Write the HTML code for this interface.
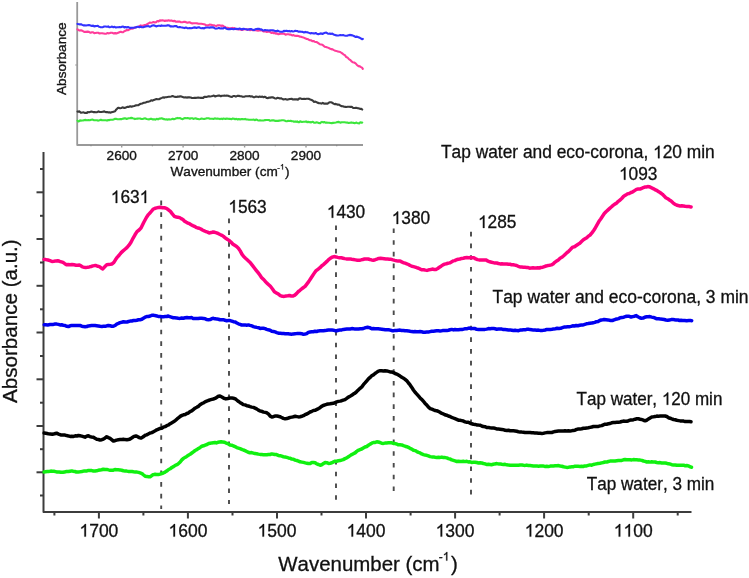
<!DOCTYPE html>
<html><head><meta charset="utf-8"><style>
html,body{margin:0;padding:0;background:#fff;}
body{width:749px;height:578px;overflow:hidden;}
svg{display:block;will-change:transform;filter:blur(0.35px);}
text{font-family:"Liberation Sans",sans-serif;font-kerning:none;white-space:pre;}
.tl{font-size:17.5px;}
.pk{font-size:17.3px;}
.sl{font-size:17.45px;}
.at{font-size:20.6px;font-kerning:normal;}
.sup{font-size:12px;}
.itl{font-size:13.6px;fill:#222;}
.iat{font-size:13.6px;fill:#222;}
.isup{font-size:8px;}
</style></head><body>
<svg width="749" height="578" viewBox="0 0 749 578">
<rect width="749" height="578" fill="#fff"/>
<path d="M43.5,152 L43.5,512 L691.5,512" fill="none" stroke="#3c3c3c" stroke-width="2" stroke-linejoin="round"/>
<line x1="36.5" y1="192.3" x2="43.5" y2="192.3" stroke="#3c3c3c" stroke-width="2"/>
<line x1="36.5" y1="239.0" x2="43.5" y2="239.0" stroke="#3c3c3c" stroke-width="2"/>
<line x1="36.5" y1="285.8" x2="43.5" y2="285.8" stroke="#3c3c3c" stroke-width="2"/>
<line x1="36.5" y1="332.5" x2="43.5" y2="332.5" stroke="#3c3c3c" stroke-width="2"/>
<line x1="36.5" y1="379.3" x2="43.5" y2="379.3" stroke="#3c3c3c" stroke-width="2"/>
<line x1="36.5" y1="426.0" x2="43.5" y2="426.0" stroke="#3c3c3c" stroke-width="2"/>
<line x1="36.5" y1="472.3" x2="43.5" y2="472.3" stroke="#3c3c3c" stroke-width="2"/>
<line x1="40" y1="169.0" x2="43.5" y2="169.0" stroke="#3c3c3c" stroke-width="2"/>
<line x1="40" y1="215.8" x2="43.5" y2="215.8" stroke="#3c3c3c" stroke-width="2"/>
<line x1="40" y1="262.5" x2="43.5" y2="262.5" stroke="#3c3c3c" stroke-width="2"/>
<line x1="40" y1="309.3" x2="43.5" y2="309.3" stroke="#3c3c3c" stroke-width="2"/>
<line x1="40" y1="356.0" x2="43.5" y2="356.0" stroke="#3c3c3c" stroke-width="2"/>
<line x1="40" y1="402.7" x2="43.5" y2="402.7" stroke="#3c3c3c" stroke-width="2"/>
<line x1="40" y1="449.2" x2="43.5" y2="449.2" stroke="#3c3c3c" stroke-width="2"/>
<line x1="40" y1="495.5" x2="43.5" y2="495.5" stroke="#3c3c3c" stroke-width="2"/>
<line x1="633.2" y1="512" x2="633.2" y2="518.5" stroke="#3c3c3c" stroke-width="2"/>
<line x1="544.1" y1="512" x2="544.1" y2="518.5" stroke="#3c3c3c" stroke-width="2"/>
<line x1="455.1" y1="512" x2="455.1" y2="518.5" stroke="#3c3c3c" stroke-width="2"/>
<line x1="366.0" y1="512" x2="366.0" y2="518.5" stroke="#3c3c3c" stroke-width="2"/>
<line x1="277.0" y1="512" x2="277.0" y2="518.5" stroke="#3c3c3c" stroke-width="2"/>
<line x1="187.9" y1="512" x2="187.9" y2="518.5" stroke="#3c3c3c" stroke-width="2"/>
<line x1="98.9" y1="512" x2="98.9" y2="518.5" stroke="#3c3c3c" stroke-width="2"/>
<line x1="677.7" y1="512" x2="677.7" y2="515.5" stroke="#3c3c3c" stroke-width="2"/>
<line x1="588.7" y1="512" x2="588.7" y2="515.5" stroke="#3c3c3c" stroke-width="2"/>
<line x1="499.6" y1="512" x2="499.6" y2="515.5" stroke="#3c3c3c" stroke-width="2"/>
<line x1="410.6" y1="512" x2="410.6" y2="515.5" stroke="#3c3c3c" stroke-width="2"/>
<line x1="321.5" y1="512" x2="321.5" y2="515.5" stroke="#3c3c3c" stroke-width="2"/>
<line x1="232.5" y1="512" x2="232.5" y2="515.5" stroke="#3c3c3c" stroke-width="2"/>
<line x1="143.4" y1="512" x2="143.4" y2="515.5" stroke="#3c3c3c" stroke-width="2"/>
<line x1="54.4" y1="512" x2="54.4" y2="515.5" stroke="#3c3c3c" stroke-width="2"/>
<g transform="translate(633.20,536.60) scale(1,1.04)"><text x="-19.47" y="0" style="font-size:17.5px;fill:#111;stroke:#111;stroke-width:0.3px">  00</text><path d="M763 0L583 0L583 1098Q518 1039 412.5 979Q307 920 223 890L223 1057Q374 1125 485.5 1220Q597 1315 647 1409L763 1409Z" transform="translate(-19.47,0) scale(0.00854,-0.00854)" fill="#111" stroke="#111" stroke-width="35.1"/><path d="M763 0L583 0L583 1098Q518 1039 412.5 979Q307 920 223 890L223 1057Q374 1125 485.5 1220Q597 1315 647 1409L763 1409Z" transform="translate(-9.73,0) scale(0.00854,-0.00854)" fill="#111" stroke="#111" stroke-width="35.1"/></g>
<g transform="translate(544.15,536.60) scale(1,1.04)"><text x="-19.47" y="0" style="font-size:17.5px;fill:#111;stroke:#111;stroke-width:0.3px"> 200</text><path d="M763 0L583 0L583 1098Q518 1039 412.5 979Q307 920 223 890L223 1057Q374 1125 485.5 1220Q597 1315 647 1409L763 1409Z" transform="translate(-19.47,0) scale(0.00854,-0.00854)" fill="#111" stroke="#111" stroke-width="35.1"/></g>
<g transform="translate(455.10,536.60) scale(1,1.04)"><text x="-19.47" y="0" style="font-size:17.5px;fill:#111;stroke:#111;stroke-width:0.3px"> 300</text><path d="M763 0L583 0L583 1098Q518 1039 412.5 979Q307 920 223 890L223 1057Q374 1125 485.5 1220Q597 1315 647 1409L763 1409Z" transform="translate(-19.47,0) scale(0.00854,-0.00854)" fill="#111" stroke="#111" stroke-width="35.1"/></g>
<g transform="translate(366.05,536.60) scale(1,1.04)"><text x="-19.47" y="0" style="font-size:17.5px;fill:#111;stroke:#111;stroke-width:0.3px"> 400</text><path d="M763 0L583 0L583 1098Q518 1039 412.5 979Q307 920 223 890L223 1057Q374 1125 485.5 1220Q597 1315 647 1409L763 1409Z" transform="translate(-19.47,0) scale(0.00854,-0.00854)" fill="#111" stroke="#111" stroke-width="35.1"/></g>
<g transform="translate(277.00,536.60) scale(1,1.04)"><text x="-19.47" y="0" style="font-size:17.5px;fill:#111;stroke:#111;stroke-width:0.3px"> 500</text><path d="M763 0L583 0L583 1098Q518 1039 412.5 979Q307 920 223 890L223 1057Q374 1125 485.5 1220Q597 1315 647 1409L763 1409Z" transform="translate(-19.47,0) scale(0.00854,-0.00854)" fill="#111" stroke="#111" stroke-width="35.1"/></g>
<g transform="translate(187.95,536.60) scale(1,1.04)"><text x="-19.47" y="0" style="font-size:17.5px;fill:#111;stroke:#111;stroke-width:0.3px"> 600</text><path d="M763 0L583 0L583 1098Q518 1039 412.5 979Q307 920 223 890L223 1057Q374 1125 485.5 1220Q597 1315 647 1409L763 1409Z" transform="translate(-19.47,0) scale(0.00854,-0.00854)" fill="#111" stroke="#111" stroke-width="35.1"/></g>
<g transform="translate(98.90,536.60) scale(1,1.04)"><text x="-19.47" y="0" style="font-size:17.5px;fill:#111;stroke:#111;stroke-width:0.3px"> 700</text><path d="M763 0L583 0L583 1098Q518 1039 412.5 979Q307 920 223 890L223 1057Q374 1125 485.5 1220Q597 1315 647 1409L763 1409Z" transform="translate(-19.47,0) scale(0.00854,-0.00854)" fill="#111" stroke="#111" stroke-width="35.1"/></g>
<line x1="161.2" y1="200.6" x2="161.2" y2="509" stroke="#4a4a4a" stroke-width="1.9" stroke-dasharray="4.6 7.13"/>
<line x1="229" y1="218.6" x2="229" y2="504" stroke="#4a4a4a" stroke-width="1.9" stroke-dasharray="4.6 7.13"/>
<line x1="336" y1="225.4" x2="336" y2="506.5" stroke="#4a4a4a" stroke-width="1.9" stroke-dasharray="4.6 7.13"/>
<line x1="393.7" y1="228.4" x2="393.7" y2="498" stroke="#4a4a4a" stroke-width="1.9" stroke-dasharray="4.6 7.13"/>
<line x1="471" y1="231.8" x2="471" y2="501.5" stroke="#4a4a4a" stroke-width="1.9" stroke-dasharray="4.6 7.13"/>
<polyline points="44.0,259.4 45.8,259.6 48.0,260.0 50.0,260.6 52.0,261.5 53.9,261.3 56.0,260.9 57.7,260.8 59.5,261.3 61.4,261.9 63.0,262.4 64.8,263.7 66.5,264.7 68.0,264.6 70.2,264.8 72.0,264.5 74.0,264.8 76.0,265.2 77.7,265.2 79.4,265.0 80.8,265.8 82.4,266.9 84.0,267.2 85.7,267.4 87.5,267.2 89.4,266.9 91.1,266.5 92.9,265.9 94.6,265.6 96.1,265.6 98.0,266.3 99.4,266.6 101.1,267.9 102.8,268.9 104.7,266.8 106.8,264.7 108.5,264.4 110.3,264.2 112.1,263.9 113.9,262.4 115.6,259.6 117.4,257.1 119.3,255.0 121.2,252.6 122.8,251.1 125.0,249.2 126.9,247.6 129.0,245.2 131.0,242.2 133.0,238.3 135.0,234.8 137.0,231.6 139.1,230.0 141.0,228.1 143.7,222.5 146.4,217.5 148.4,214.6 150.4,212.5 153.0,209.3 154.6,208.5 156.6,207.9 158.4,207.5 160.5,207.3 162.4,207.7 164.4,207.8 166.4,208.4 168.4,209.8 170.4,211.4 172.3,213.9 174.4,216.3 176.0,217.0 177.8,217.2 179.7,217.6 181.2,218.6 182.9,219.5 184.6,221.2 186.4,222.3 187.9,223.1 189.5,223.7 191.1,224.7 192.8,225.6 194.4,226.3 196.0,227.3 197.7,228.0 199.3,228.3 200.9,229.0 202.4,230.0 204.2,230.8 206.0,231.7 207.6,232.2 209.1,232.9 211.2,232.6 213.1,232.0 214.8,232.3 216.6,232.9 218.5,233.7 220.1,234.5 221.8,235.3 223.5,236.4 225.0,237.8 227.2,239.2 229.0,240.4 230.9,242.0 233.0,244.2 234.7,245.3 236.6,246.5 238.4,248.2 240.2,250.9 241.9,254.1 243.7,256.5 245.5,258.2 247.2,259.7 249.0,261.4 250.8,263.3 252.6,265.6 254.4,268.0 256.2,270.3 257.9,272.4 259.7,274.8 261.5,277.4 263.3,279.2 265.1,281.2 266.9,283.1 268.7,284.7 270.4,286.3 272.5,289.0 274.4,291.7 276.4,292.9 278.4,294.1 280.3,295.6 282.4,296.3 284.1,296.4 286.0,296.0 287.8,295.8 289.6,295.5 291.3,296.1 293.1,296.0 294.8,295.1 296.5,293.6 298.4,291.5 300.0,290.3 301.8,288.7 303.5,287.5 305.1,286.4 307.0,283.9 308.7,281.6 310.4,279.0 312.2,276.3 314.1,273.4 315.8,270.9 317.9,269.3 320.0,267.7 321.6,266.0 323.4,264.6 325.3,262.9 326.9,261.4 328.7,259.6 330.5,258.2 332.0,257.2 334.1,256.6 336.0,256.9 337.7,257.4 339.5,257.8 341.4,257.8 343.0,258.2 344.7,258.6 346.4,258.9 348.0,259.0 349.9,258.9 351.7,259.3 353.4,259.5 355.4,259.9 357.4,260.3 359.1,260.2 360.9,259.9 362.7,259.5 364.5,259.0 366.3,259.1 368.1,259.0 369.9,259.5 371.6,259.9 373.4,260.2 375.2,259.7 376.9,259.1 378.7,258.4 380.5,258.3 382.3,258.5 384.1,258.7 385.9,258.9 387.6,259.1 389.4,259.3 391.2,259.3 393.0,259.9 394.8,260.4 396.5,260.8 398.2,261.0 400.1,261.0 401.7,261.9 403.4,262.8 405.1,263.1 406.8,263.8 408.5,264.5 410.1,265.5 411.8,266.2 413.5,266.6 415.2,267.1 416.9,267.7 418.6,268.2 420.3,269.1 422.0,269.8 423.7,269.7 425.4,270.1 427.0,270.4 428.9,269.8 430.7,269.5 432.4,269.1 434.2,269.4 435.9,269.5 437.7,268.5 439.4,267.3 441.1,266.2 443.0,264.8 444.6,264.1 446.3,263.7 448.0,263.2 449.7,262.9 451.4,261.9 453.1,260.9 454.8,260.6 456.4,259.7 458.2,259.3 459.9,259.0 461.7,258.4 463.3,258.3 465.1,257.8 466.9,257.6 468.4,257.7 470.4,257.6 472.4,257.8 473.9,257.8 475.7,258.9 477.5,259.6 479.1,259.9 481.0,260.0 482.7,260.0 484.4,259.9 486.2,260.1 488.0,261.2 489.8,261.8 491.5,262.2 493.2,262.6 495.1,263.1 496.7,263.0 498.4,263.5 500.1,263.9 501.8,263.8 503.5,264.0 505.2,264.1 506.8,264.0 508.5,264.3 510.1,264.2 511.6,264.8 513.2,264.7 515.0,265.1 516.6,265.5 518.2,266.3 520.0,266.9 521.7,267.1 523.4,267.3 525.0,267.3 526.6,267.4 528.1,267.6 529.7,268.2 531.4,267.9 532.9,267.8 534.6,268.0 536.2,267.9 537.8,267.7 539.4,268.0 540.7,267.5 542.8,267.2 544.4,266.6 546.0,266.0 547.8,265.6 549.6,265.3 551.4,264.9 553.1,264.0 554.8,262.3 556.7,260.9 558.3,259.9 560.1,258.2 561.8,257.3 563.4,256.0 565.3,254.2 567.1,252.5 568.7,251.3 570.8,249.1 572.8,247.1 574.5,246.7 576.3,245.5 578.1,244.3 579.8,243.3 581.5,241.6 583.4,239.8 585.0,238.8 586.8,237.7 588.5,236.1 590.1,235.0 591.9,232.9 593.5,230.7 595.0,228.5 597.0,224.9 599.0,221.3 600.7,219.0 602.5,216.3 604.3,213.5 606.0,211.7 607.8,210.1 609.7,208.4 611.3,207.0 613.1,205.4 614.8,204.1 616.4,203.2 618.3,201.3 620.1,200.0 621.7,198.5 623.7,196.3 625.7,195.1 627.4,193.9 629.2,193.5 631.0,192.5 632.8,191.8 634.6,190.6 636.4,189.4 638.1,189.0 639.9,189.1 641.7,188.3 643.2,187.7 644.7,187.1 646.2,187.0 647.7,186.6 649.2,186.7 650.7,187.4 652.2,188.1 653.7,188.8 655.5,189.9 657.2,190.7 659.1,191.9 660.7,193.0 662.5,194.3 664.2,196.1 665.8,197.7 667.7,198.7 669.5,200.0 671.1,201.0 673.0,202.8 675.1,204.4 676.5,205.0 678.1,205.6 679.9,205.9 681.8,205.8 683.3,206.0 685.1,206.3 686.9,206.4 688.6,206.4 690.1,206.8 691.1,207.0" fill="none" stroke="#ff0080" stroke-width="3.5" stroke-linejoin="round" stroke-linecap="round"/>
<polyline points="44.2,324.7 45.7,324.7 47.8,324.9 50.0,324.6 51.7,324.5 53.4,324.4 55.1,324.0 56.7,324.1 58.4,324.4 60.0,324.9 61.7,324.8 63.3,325.2 65.1,325.5 66.8,326.3 68.4,326.6 70.1,325.8 71.7,325.6 73.4,325.4 75.0,325.4 76.7,325.5 78.4,325.5 80.0,325.5 81.8,326.2 83.5,326.6 85.1,326.8 86.8,326.6 88.4,325.9 90.1,325.7 91.6,325.5 93.2,325.6 95.1,325.5 96.6,325.7 98.3,325.9 100.2,326.2 101.9,326.4 103.4,326.3 105.3,326.3 106.9,325.8 108.4,325.5 110.1,325.8 111.7,326.2 113.4,326.2 115.1,325.5 116.7,324.1 118.4,323.4 120.1,322.6 121.7,322.3 123.4,321.7 125.1,322.0 126.8,322.1 128.5,321.5 130.1,321.1 131.7,321.0 133.5,320.5 135.1,320.6 136.8,320.2 138.5,319.7 140.1,319.7 141.8,319.3 143.4,318.2 145.1,317.2 146.7,316.6 148.5,316.5 150.2,316.0 151.8,315.3 153.5,315.3 155.0,315.6 156.8,315.9 158.3,316.5 160.1,316.4 161.9,316.7 163.6,316.7 165.0,316.6 166.8,316.5 168.3,316.0 169.7,316.7 171.3,317.2 173.3,317.8 174.8,317.8 176.4,317.9 178.2,318.3 180.0,318.4 181.7,318.0 183.4,318.2 185.2,317.7 186.9,317.5 188.6,317.7 190.0,317.7 191.8,317.6 193.3,318.6 195.0,318.6 196.6,318.5 198.2,318.6 200.0,318.3 201.7,318.2 203.4,318.4 205.2,318.8 206.8,319.6 208.4,319.8 210.1,319.6 211.7,318.7 213.4,318.3 215.0,318.8 216.7,318.9 218.4,319.3 220.1,319.8 221.8,319.7 223.4,319.7 225.0,320.3 226.7,320.7 228.4,320.6 230.1,320.6 231.8,321.1 233.4,321.7 235.2,321.9 236.8,323.0 238.4,323.8 240.1,324.4 241.7,325.0 243.4,325.1 245.1,324.9 246.7,325.2 248.4,324.9 250.0,325.4 251.6,325.7 253.4,326.6 255.0,327.0 256.8,327.4 258.5,327.7 260.1,328.4 261.8,328.3 263.4,328.2 265.1,328.6 266.7,329.3 268.3,329.8 270.1,330.2 271.8,331.2 273.5,331.5 275.1,331.9 276.8,332.6 278.5,333.2 280.2,333.3 282.0,333.4 283.7,333.6 285.2,333.8 286.9,333.7 288.3,333.7 290.0,334.1 291.5,334.2 293.2,333.9 295.0,333.7 296.7,333.6 298.4,333.4 300.1,333.5 301.7,333.7 303.4,334.3 305.1,334.0 306.7,333.6 308.3,332.4 310.0,332.0 311.7,331.7 313.3,331.7 315.0,331.3 316.7,331.5 318.4,330.9 320.0,330.8 321.7,330.8 323.4,330.8 325.1,330.6 326.8,330.3 328.4,330.1 330.1,330.1 331.8,329.9 333.4,330.2 335.0,330.7 336.7,330.8 338.4,330.3 340.0,330.1 341.7,329.9 343.4,329.4 345.1,329.2 346.8,329.0 348.4,329.0 350.1,329.0 351.8,328.6 353.5,328.8 355.1,329.1 356.8,329.1 358.5,329.0 360.3,328.7 361.9,328.8 363.4,328.5 365.6,327.6 367.6,327.2 369.5,327.6 371.8,328.8 373.3,328.6 374.9,328.8 376.7,328.8 378.5,328.7 380.1,329.1 381.8,329.2 383.5,329.4 385.2,329.8 386.8,329.7 388.6,329.7 390.4,330.1 392.0,330.7 393.5,330.7 395.2,330.4 396.7,330.4 398.5,330.2 400.0,330.1 401.6,330.5 403.3,330.5 405.1,330.8 406.8,330.7 408.4,330.9 410.1,331.3 411.7,331.6 413.4,331.8 415.0,331.6 416.7,331.7 418.3,331.7 420.0,331.6 421.6,331.8 423.3,332.2 425.0,332.3 426.7,332.1 428.3,332.1 430.0,331.6 431.7,331.2 433.4,331.2 435.0,331.0 436.7,330.8 438.3,330.8 440.0,330.9 441.7,330.7 443.4,330.4 445.0,330.5 446.7,330.6 448.4,330.2 450.1,329.7 451.7,329.4 453.4,329.9 455.0,329.5 456.7,329.7 458.4,329.7 460.2,329.4 461.9,329.6 463.6,329.1 465.1,328.8 467.2,328.7 468.9,328.1 470.9,328.4 472.3,328.4 473.7,328.5 475.1,328.6 476.7,329.3 478.4,329.4 479.9,329.5 481.5,329.5 483.2,329.4 485.0,329.4 486.7,329.1 488.4,328.6 490.1,328.7 491.7,328.5 493.4,328.4 495.1,328.8 496.7,329.2 498.4,329.0 500.1,329.0 501.8,329.1 503.4,329.5 505.1,329.6 506.8,329.7 508.5,329.9 510.2,329.9 511.8,330.2 513.5,330.5 515.2,330.2 516.8,330.6 518.5,330.7 520.1,330.1 521.8,330.0 523.4,329.8 525.1,329.8 526.7,329.3 528.5,329.3 530.1,329.6 531.7,329.8 533.4,330.1 535.1,330.1 536.8,330.3 538.4,330.1 540.0,330.4 541.8,330.5 543.5,330.3 545.2,330.0 546.9,329.4 548.6,329.5 550.3,329.4 552.0,329.3 553.8,328.9 555.5,328.8 557.2,328.3 559.0,328.4 560.7,328.3 562.4,327.7 564.1,327.1 565.9,326.9 567.6,326.8 569.3,326.7 571.0,326.4 572.7,325.8 574.5,326.0 576.2,325.5 577.9,325.7 579.7,325.3 581.4,325.0 583.1,325.0 584.8,324.3 586.4,323.8 588.1,323.6 589.9,323.3 591.7,323.1 593.2,322.7 594.8,322.4 596.4,321.7 598.1,321.5 599.7,320.5 601.3,320.0 602.8,319.8 604.2,319.5 606.1,319.7 607.9,319.9 609.5,320.2 611.0,320.6 612.4,320.5 614.0,319.9 615.5,319.3 616.9,319.0 618.6,318.6 620.2,317.7 622.0,317.4 623.8,317.2 625.5,316.5 626.9,316.2 629.2,316.3 631.1,317.0 632.7,316.6 634.5,316.2 636.2,315.6 637.9,316.8 639.7,317.7 641.4,318.2 643.1,318.1 644.7,317.2 646.6,316.7 648.2,316.8 649.9,316.6 651.7,317.1 653.8,317.5 655.3,318.2 657.0,318.7 658.8,318.7 660.6,319.1 662.4,319.2 664.2,319.5 665.9,320.0 667.7,320.2 669.5,319.9 671.2,319.6 672.9,319.4 674.5,319.7 676.3,320.1 677.9,319.9 679.5,320.5 681.1,320.3 682.8,320.4 684.7,320.4 686.7,320.7 688.8,320.6 690.5,320.6 691.7,320.7" fill="none" stroke="#0000f0" stroke-width="3.5" stroke-linejoin="round" stroke-linecap="round"/>
<polyline points="44.1,433.0 45.9,433.3 48.3,433.7 50.4,434.0 52.4,434.3 54.5,433.8 56.6,433.2 58.6,434.1 60.7,434.9 62.8,435.0 65.0,435.1 66.6,435.6 68.4,435.9 70.1,436.4 71.8,436.2 73.6,436.4 75.3,435.8 76.9,436.0 78.4,435.5 80.0,435.8 81.7,436.1 83.4,436.6 85.0,437.2 86.6,436.3 88.4,435.8 89.9,436.6 91.6,437.0 93.4,437.3 95.0,438.3 96.8,439.3 98.5,439.5 100.0,440.0 101.8,439.7 103.4,439.1 105.1,438.0 106.7,436.7 108.4,437.6 110.1,438.4 111.6,439.6 113.4,441.0 114.9,440.7 116.5,440.1 118.4,439.7 120.0,439.6 121.8,439.5 123.5,439.3 125.1,439.6 126.9,439.8 128.4,439.6 130.1,439.0 132.0,437.8 134.0,436.4 135.9,436.0 137.7,436.7 139.3,437.6 140.9,438.1 142.9,437.0 145.1,435.3 146.6,434.9 148.3,434.0 150.1,433.0 151.8,432.6 153.5,431.7 155.2,430.8 156.8,429.8 158.5,429.1 160.1,428.4 161.7,428.2 163.3,427.2 165.1,426.6 166.7,425.7 168.4,425.0 170.2,423.7 171.9,422.7 173.5,421.8 175.3,420.6 177.1,418.9 178.7,417.7 180.2,416.4 182.0,415.4 183.6,414.8 185.2,414.5 186.8,413.5 188.4,413.0 190.0,411.6 191.7,410.9 193.3,409.6 195.0,408.2 196.7,407.3 198.3,406.4 200.0,404.8 201.7,403.7 203.3,403.0 205.0,401.9 206.7,401.2 208.3,400.5 210.0,399.9 211.7,399.4 213.3,399.0 215.0,398.4 216.6,397.4 218.3,396.3 220.0,396.1 221.9,397.0 223.9,398.3 225.9,398.9 227.9,398.5 229.8,398.1 231.7,397.9 233.4,398.3 235.1,398.7 236.7,400.0 238.3,401.3 239.9,402.4 241.7,403.5 243.3,404.6 245.0,404.9 246.8,405.7 248.4,406.0 250.1,406.6 251.7,407.1 253.4,407.4 255.0,408.1 256.6,408.9 258.4,410.1 260.1,411.0 261.8,411.3 263.6,412.1 265.2,412.4 266.8,412.8 268.6,414.2 270.2,416.1 271.8,416.9 273.3,416.7 274.9,416.1 276.8,416.0 278.2,416.3 279.9,416.7 281.6,417.5 283.4,418.4 285.1,418.8 286.8,418.5 288.5,418.0 290.3,417.4 291.9,417.1 293.5,416.8 295.3,416.3 296.9,416.6 298.5,416.9 300.1,416.7 301.7,416.3 303.4,415.7 305.0,414.7 306.8,414.0 308.4,413.1 310.1,412.0 311.9,411.3 313.5,410.5 315.0,410.3 316.9,409.4 318.5,408.6 320.0,407.7 321.6,406.4 323.2,405.5 325.0,404.8 326.6,404.3 328.2,404.0 330.0,403.8 331.7,403.5 333.4,403.3 335.1,402.6 336.7,401.9 338.4,401.4 340.1,401.1 341.7,400.7 343.3,400.1 345.0,399.6 346.7,398.4 348.4,397.1 350.1,396.2 351.7,395.3 353.4,394.0 355.0,393.1 356.7,391.6 358.3,390.0 360.1,388.3 361.8,386.9 363.4,384.7 365.2,382.7 366.8,380.8 368.4,378.9 370.1,377.4 371.7,375.8 373.4,374.9 375.0,373.5 376.6,372.4 378.4,371.1 380.0,370.8 381.6,370.8 383.4,371.0 385.1,370.7 386.8,370.9 388.5,371.4 390.1,371.9 391.8,372.0 393.5,372.6 395.1,373.5 396.7,374.1 398.4,375.1 400.1,376.1 401.8,377.3 403.5,378.2 405.1,379.4 406.9,380.9 408.5,383.0 410.1,384.9 411.8,387.4 413.4,390.0 415.1,392.3 416.8,394.1 418.4,395.9 420.1,397.9 421.8,399.6 423.4,401.2 425.1,403.4 426.8,405.1 428.5,407.2 430.2,408.6 431.9,409.2 433.6,409.9 435.2,410.5 436.7,410.8 438.1,411.2 440.0,412.3 441.4,413.2 443.1,413.8 444.8,414.7 446.6,415.2 448.3,416.0 450.0,416.5 451.7,417.3 453.3,418.0 455.0,418.7 456.7,419.4 458.4,420.2 460.0,420.3 461.7,420.6 463.3,421.0 465.0,421.9 466.7,422.2 468.4,422.3 470.0,423.1 471.7,423.8 473.4,424.3 475.1,424.4 476.7,424.9 478.4,425.1 480.0,425.2 481.7,426.0 483.4,426.6 485.0,426.7 486.7,427.5 488.3,427.4 490.0,427.8 491.7,427.9 493.4,428.1 495.0,428.3 496.7,428.9 498.4,429.0 500.1,429.2 501.8,429.4 503.4,429.7 505.1,430.3 506.8,430.5 508.5,430.3 510.1,430.7 511.8,430.8 513.4,430.8 515.1,431.0 516.8,431.3 518.4,431.7 520.1,431.9 521.7,432.1 523.4,432.2 525.1,432.5 526.8,432.4 528.4,432.5 530.1,432.6 531.8,432.8 533.5,432.7 535.1,433.1 536.8,433.1 538.4,433.3 540.1,433.3 541.8,433.4 543.5,433.2 545.1,432.9 546.8,432.6 548.5,432.6 550.2,432.6 551.8,432.5 553.5,431.9 555.1,431.5 556.8,431.3 558.4,431.1 560.1,431.0 561.7,430.9 563.4,430.9 565.0,430.7 566.7,430.9 568.3,430.8 570.0,430.9 571.6,430.7 573.3,430.4 575.0,430.2 576.7,429.4 578.3,429.0 580.0,429.1 581.7,428.8 583.4,428.3 585.0,428.3 586.7,428.0 588.3,427.8 590.0,427.4 591.7,427.0 593.4,426.5 595.0,426.5 596.7,426.5 598.4,426.4 600.1,425.9 601.7,425.6 603.4,424.8 605.0,424.2 606.7,424.2 608.4,423.8 610.1,423.5 611.7,422.8 613.4,422.5 615.1,422.4 616.8,422.3 618.4,422.2 620.1,422.0 621.7,421.5 623.4,421.1 625.1,421.2 626.8,421.2 628.6,420.7 630.2,420.1 631.8,420.0 633.6,419.7 635.2,419.2 636.8,418.8 638.4,418.7 640.1,419.2 641.7,419.5 643.4,420.2 645.1,420.7 646.8,420.2 648.5,418.9 650.1,417.9 651.8,416.9 653.5,416.8 655.2,416.6 656.8,416.1 658.5,416.2 660.2,416.1 661.8,416.0 663.4,415.9 665.1,416.0 666.8,416.5 668.4,417.7 670.1,418.2 671.8,418.9 673.5,419.5 675.1,419.8 676.8,420.3 678.5,420.6 680.2,420.9 681.9,421.0 683.6,421.1 685.2,421.6 687.4,421.5 689.5,421.5 691.0,421.7" fill="none" stroke="#000000" stroke-width="3.5" stroke-linejoin="round" stroke-linecap="round"/>
<polyline points="44.1,471.9 45.4,471.7 47.3,471.4 49.3,471.4 50.8,471.1 52.3,471.2 53.9,471.3 55.6,471.6 57.3,472.1 59.1,472.0 61.0,472.3 62.8,472.2 64.6,471.9 66.5,471.6 68.3,471.5 70.1,471.2 71.7,470.9 73.2,471.2 74.7,471.4 76.3,472.0 78.1,472.0 79.9,471.8 81.8,471.5 83.6,471.1 85.3,471.1 86.9,470.9 88.5,470.4 90.0,470.6 91.8,470.6 93.4,471.0 95.0,471.0 96.6,470.8 98.2,470.3 100.0,470.0 101.6,469.7 103.3,469.2 105.1,469.4 106.7,469.4 108.5,469.9 110.1,470.2 111.7,470.3 113.3,470.2 114.9,469.5 116.7,469.7 118.2,469.8 119.8,469.9 121.6,470.3 123.4,470.8 125.0,470.9 126.6,471.1 128.3,471.4 130.0,471.4 131.7,471.4 133.4,471.8 135.2,471.9 137.0,472.1 138.6,472.4 140.1,472.9 142.0,473.6 143.6,475.0 145.1,476.2 146.8,476.4 148.4,476.7 150.1,476.8 151.8,475.6 153.4,474.6 155.1,474.3 156.8,474.4 158.4,474.5 160.1,474.1 161.7,473.5 163.3,473.0 165.1,472.1 166.7,471.1 168.3,469.7 170.1,468.8 171.8,467.5 173.5,466.6 175.3,465.3 176.9,464.7 178.5,463.6 180.2,462.0 181.8,459.9 183.5,458.4 185.0,457.4 186.7,456.4 188.4,455.2 190.1,454.3 191.8,453.0 193.4,451.8 195.1,450.5 196.8,449.7 198.5,448.4 200.2,447.4 201.8,446.3 203.5,445.8 205.2,445.1 207.0,444.5 208.7,443.5 210.2,443.2 211.8,442.9 213.3,442.7 215.0,442.5 216.4,442.9 217.9,442.3 219.5,442.0 221.1,441.7 222.5,441.9 224.6,442.2 226.4,443.2 228.4,444.0 230.0,445.0 231.7,445.2 233.3,445.8 235.0,446.6 236.7,447.6 238.4,448.1 240.1,448.6 241.7,449.3 243.4,450.0 245.0,450.6 246.7,451.5 248.2,452.3 249.8,452.7 251.6,452.6 253.4,453.1 255.0,453.6 256.7,453.7 258.4,454.1 260.1,454.4 261.7,454.5 263.5,454.7 265.3,454.7 266.9,454.8 268.4,454.6 270.1,454.5 271.7,453.9 273.4,454.2 274.9,454.5 276.5,454.6 278.3,455.4 280.1,455.7 281.7,456.2 283.4,456.7 285.1,457.0 286.8,457.4 288.4,457.9 290.2,458.2 291.8,459.1 293.5,459.2 295.1,460.1 296.8,460.5 298.5,461.1 300.1,461.8 301.8,462.1 303.5,462.4 305.3,462.9 306.9,463.2 308.5,463.6 310.2,463.5 311.8,462.5 313.5,462.5 315.1,462.7 316.8,463.9 318.5,464.5 320.1,465.2 321.9,464.7 323.5,463.5 325.1,462.6 326.8,462.7 328.5,463.4 330.2,463.2 331.9,462.8 333.6,461.9 335.2,461.2 336.7,461.2 338.3,460.8 340.0,460.6 341.5,460.1 343.2,459.6 345.0,458.6 346.7,457.9 348.4,456.7 350.1,455.6 351.7,454.6 353.4,453.7 355.1,452.9 356.7,451.4 358.3,450.3 360.0,449.6 361.7,449.0 363.3,448.0 365.0,447.0 366.7,446.5 368.4,445.3 370.2,444.1 371.8,443.2 373.4,442.5 375.2,442.4 376.8,441.8 378.4,442.0 380.0,442.5 381.6,443.2 383.4,443.4 385.0,443.1 386.6,442.9 388.4,442.8 390.1,442.8 391.8,442.8 393.4,443.4 395.0,443.6 396.7,444.0 398.4,444.8 400.0,444.8 401.7,444.9 403.4,445.6 405.1,446.2 406.8,446.7 408.4,447.4 410.1,448.3 411.8,449.1 413.5,450.3 415.1,450.6 416.8,451.6 418.5,452.4 420.1,452.9 421.7,453.9 423.4,454.6 425.1,455.0 426.7,455.3 428.4,455.9 430.1,456.6 431.8,456.9 433.5,456.9 435.1,457.2 436.8,457.4 438.5,457.3 440.2,457.4 441.8,457.1 443.5,457.6 445.2,457.6 446.8,457.9 448.4,458.6 450.1,459.0 451.7,459.9 453.4,460.4 455.0,460.9 456.8,461.5 458.3,461.2 460.0,461.5 461.6,461.4 463.3,461.3 465.0,461.6 466.7,461.3 468.3,461.9 470.0,461.8 471.6,462.4 473.3,462.3 475.0,462.2 476.7,462.5 478.5,463.0 480.1,462.8 481.7,463.0 483.4,463.5 484.9,463.8 486.5,464.4 488.4,464.3 489.9,464.5 491.5,464.7 493.2,464.3 494.9,463.9 496.7,463.6 498.4,463.9 500.1,463.9 501.7,464.3 503.4,464.5 505.1,464.3 506.7,464.8 508.4,465.1 510.1,465.2 511.7,465.2 513.4,465.2 515.1,465.2 516.7,465.2 518.4,465.2 520.1,465.0 521.7,464.9 523.4,465.3 525.1,465.4 526.7,465.1 528.4,465.5 530.1,465.6 531.7,465.7 533.4,465.9 535.1,466.1 536.7,465.9 538.4,466.2 540.1,466.1 541.9,466.1 543.6,466.1 545.3,466.5 546.9,466.3 548.4,466.6 550.3,466.1 552.0,466.0 553.5,465.9 555.1,465.8 556.8,465.7 558.5,465.6 560.1,466.0 561.8,466.3 563.5,466.8 565.2,467.1 566.8,467.4 568.5,467.2 570.2,466.9 571.9,466.8 573.6,466.7 575.1,466.2 576.7,466.2 578.2,466.3 580.0,466.4 581.4,466.3 583.1,466.5 584.8,465.9 586.6,465.9 588.3,465.4 590.0,464.9 591.7,465.2 593.3,464.5 595.0,464.1 596.7,463.8 598.4,463.4 600.0,463.3 601.7,462.9 603.3,462.5 605.0,462.0 606.7,462.1 608.4,461.5 610.0,461.1 611.7,461.1 613.4,461.1 615.1,460.9 616.7,460.7 618.4,460.5 620.0,460.5 621.7,460.4 623.4,459.8 625.1,459.5 626.7,459.7 628.4,459.7 630.1,459.7 631.8,459.9 633.4,459.6 635.1,459.8 636.7,459.8 638.4,459.9 640.1,460.1 641.8,460.4 643.4,461.0 645.1,461.4 646.8,462.0 648.5,461.8 650.1,462.1 651.8,461.8 653.4,462.1 655.1,462.0 656.8,462.5 658.4,462.8 660.1,462.6 661.7,463.0 663.4,462.9 665.1,463.1 666.8,463.3 668.4,463.8 670.1,464.0 671.8,464.7 673.5,464.9 675.2,465.0 676.9,465.3 678.5,465.2 680.1,465.2 681.9,465.3 683.7,465.2 685.3,465.8 686.8,465.6 688.7,465.9 690.4,466.9 691.5,467.2" fill="none" stroke="#10f010" stroke-width="3.5" stroke-linejoin="round" stroke-linecap="round"/>
<g transform="translate(110.80,203.00) scale(1,1.04)"><text x="0.00" y="0" style="font-size:17.3px;fill:#111;stroke:#111;stroke-width:0.3px"> 63 </text><path d="M763 0L583 0L583 1098Q518 1039 412.5 979Q307 920 223 890L223 1057Q374 1125 485.5 1220Q597 1315 647 1409L763 1409Z" transform="translate(0.00,0) scale(0.00845,-0.00845)" fill="#111" stroke="#111" stroke-width="35.5"/><path d="M763 0L583 0L583 1098Q518 1039 412.5 979Q307 920 223 890L223 1057Q374 1125 485.5 1220Q597 1315 647 1409L763 1409Z" transform="translate(28.86,0) scale(0.00845,-0.00845)" fill="#111" stroke="#111" stroke-width="35.5"/></g>
<g transform="translate(228.30,212.50) scale(1,1.04)"><text x="0.00" y="0" style="font-size:17.3px;fill:#111;stroke:#111;stroke-width:0.3px"> 563</text><path d="M763 0L583 0L583 1098Q518 1039 412.5 979Q307 920 223 890L223 1057Q374 1125 485.5 1220Q597 1315 647 1409L763 1409Z" transform="translate(0.00,0) scale(0.00845,-0.00845)" fill="#111" stroke="#111" stroke-width="35.5"/></g>
<g transform="translate(326.80,217.80) scale(1,1.04)"><text x="0.00" y="0" style="font-size:17.3px;fill:#111;stroke:#111;stroke-width:0.3px"> 430</text><path d="M763 0L583 0L583 1098Q518 1039 412.5 979Q307 920 223 890L223 1057Q374 1125 485.5 1220Q597 1315 647 1409L763 1409Z" transform="translate(0.00,0) scale(0.00845,-0.00845)" fill="#111" stroke="#111" stroke-width="35.5"/></g>
<g transform="translate(391.70,224.00) scale(1,1.04)"><text x="0.00" y="0" style="font-size:17.3px;fill:#111;stroke:#111;stroke-width:0.3px"> 380</text><path d="M763 0L583 0L583 1098Q518 1039 412.5 979Q307 920 223 890L223 1057Q374 1125 485.5 1220Q597 1315 647 1409L763 1409Z" transform="translate(0.00,0) scale(0.00845,-0.00845)" fill="#111" stroke="#111" stroke-width="35.5"/></g>
<g transform="translate(478.00,227.90) scale(1,1.04)"><text x="0.00" y="0" style="font-size:17.3px;fill:#111;stroke:#111;stroke-width:0.3px"> 285</text><path d="M763 0L583 0L583 1098Q518 1039 412.5 979Q307 920 223 890L223 1057Q374 1125 485.5 1220Q597 1315 647 1409L763 1409Z" transform="translate(0.00,0) scale(0.00845,-0.00845)" fill="#111" stroke="#111" stroke-width="35.5"/></g>
<g transform="translate(619.00,179.70) scale(1,1.04)"><text x="0.00" y="0" style="font-size:17.3px;fill:#111;stroke:#111;stroke-width:0.3px"> 093</text><path d="M763 0L583 0L583 1098Q518 1039 412.5 979Q307 920 223 890L223 1057Q374 1125 485.5 1220Q597 1315 647 1409L763 1409Z" transform="translate(0.00,0) scale(0.00845,-0.00845)" fill="#111" stroke="#111" stroke-width="35.5"/></g>
<g transform="translate(441.00,158.20) scale(1,1.04)"><text x="0.00" y="0" style="font-size:17.34px;fill:#111;stroke:#111;stroke-width:0.3px">Tap water and eco-corona,  20 min</text><path d="M763 0L583 0L583 1098Q518 1039 412.5 979Q307 920 223 890L223 1057Q374 1125 485.5 1220Q597 1315 647 1409L763 1409Z" transform="translate(212.05,0) scale(0.00847,-0.00847)" fill="#111" stroke="#111" stroke-width="35.4"/></g>
<g transform="translate(492.50,302.70) scale(1,1.04)"><text x="0.00" y="0" style="font-size:17.45px;fill:#111;stroke:#111;stroke-width:0.3px">Tap water and eco-corona, 3 min</text></g>
<g transform="translate(576.60,404.80) scale(1,1.04)"><text x="0.00" y="0" style="font-size:17.05px;fill:#111;stroke:#111;stroke-width:0.3px">Tap water,  20 min</text><path d="M763 0L583 0L583 1098Q518 1039 412.5 979Q307 920 223 890L223 1057Q374 1125 485.5 1220Q597 1315 647 1409L763 1409Z" transform="translate(85.28,0) scale(0.00833,-0.00833)" fill="#111" stroke="#111" stroke-width="36.0"/></g>
<g transform="translate(586.70,489.80) scale(1,1.04)"><text x="0.00" y="0" style="font-size:17.15px;fill:#111;stroke:#111;stroke-width:0.3px">Tap water, 3 min</text></g>
<g transform="translate(278.30,571.40) scale(1,1.02)"><text x="0.00" y="0" style="font-size:20.45px;fill:#111;stroke:#111;stroke-width:0.3px">Wavenumber (cm</text></g>
<g transform="translate(438.80,560.60) scale(1,1.04)"><text x="0.00" y="0" style="font-size:12px;fill:#111;stroke:#111;stroke-width:0.3px">- </text><path d="M763 0L583 0L583 1098Q518 1039 412.5 979Q307 920 223 890L223 1057Q374 1125 485.5 1220Q597 1315 647 1409L763 1409Z" transform="translate(4.00,0) scale(0.00586,-0.00586)" fill="#111" stroke="#111" stroke-width="51.2"/></g>
<g transform="translate(450.90,571.40)"><text x="0.00" y="0" style="font-size:20.45px;fill:#111;stroke:#111;stroke-width:0.3px">)</text></g>
<g transform="translate(17.00,403.00) rotate(-90)"><text x="0.00" y="0" style="font-size:20.6px;fill:#111;stroke:#111;stroke-width:0.3px">Absorbance (a.u.)</text></g>
<path d="M77.2,2 L77.2,145 L363,145" fill="none" stroke="#999999" stroke-width="1.8" stroke-linejoin="round"/>
<line x1="121.7" y1="145" x2="121.7" y2="147.5" stroke="#999999" stroke-width="1.4"/>
<g transform="translate(121.70,160.20)"><text x="-15.13" y="0" style="font-size:13.6px;fill:#151515;stroke:#151515;stroke-width:0.35px">2600</text></g>
<line x1="183.1" y1="145" x2="183.1" y2="147.5" stroke="#999999" stroke-width="1.4"/>
<g transform="translate(183.13,160.20)"><text x="-15.13" y="0" style="font-size:13.6px;fill:#151515;stroke:#151515;stroke-width:0.35px">2700</text></g>
<line x1="244.6" y1="145" x2="244.6" y2="147.5" stroke="#999999" stroke-width="1.4"/>
<g transform="translate(244.56,160.20)"><text x="-15.13" y="0" style="font-size:13.6px;fill:#151515;stroke:#151515;stroke-width:0.35px">2800</text></g>
<line x1="306.0" y1="145" x2="306.0" y2="147.5" stroke="#999999" stroke-width="1.4"/>
<g transform="translate(305.99,160.20)"><text x="-15.13" y="0" style="font-size:13.6px;fill:#151515;stroke:#151515;stroke-width:0.35px">2900</text></g>
<line x1="91.0" y1="145" x2="91.0" y2="146.2" stroke="#888" stroke-width="1.2"/>
<line x1="152.4" y1="145" x2="152.4" y2="146.2" stroke="#888" stroke-width="1.2"/>
<line x1="213.8" y1="145" x2="213.8" y2="146.2" stroke="#888" stroke-width="1.2"/>
<line x1="275.3" y1="145" x2="275.3" y2="146.2" stroke="#888" stroke-width="1.2"/>
<line x1="336.7" y1="145" x2="336.7" y2="146.2" stroke="#888" stroke-width="1.2"/>
<line x1="75.2" y1="65" x2="77.2" y2="65" stroke="#999999" stroke-width="1"/>
<polyline points="77.5,29.3 78.2,29.9 79.0,30.2 79.9,30.6 81.0,30.2 82.2,30.7 83.4,31.4 84.7,31.9 86.1,31.9 87.5,31.6 89.0,31.9 90.5,32.8 92.0,32.2 93.1,32.3 94.3,33.1 95.5,33.0 96.8,32.7 98.1,32.7 99.5,33.5 100.9,33.2 102.2,33.2 103.6,33.5 105.0,33.8 106.4,33.6 107.7,33.1 109.0,33.4 110.2,32.9 111.3,32.8 112.4,32.8 113.4,33.4 115.2,33.1 116.8,33.4 118.2,32.7 119.4,32.2 120.6,31.7 121.7,32.1 122.8,32.3 124.1,31.4 125.4,30.8 126.7,30.0 127.9,30.2 129.2,29.6 130.5,28.8 131.8,28.8 133.3,28.4 134.8,27.8 135.9,27.0 137.0,27.0 138.2,26.7 139.5,26.2 140.7,25.4 142.0,25.7 143.3,25.6 144.6,25.0 145.9,25.0 147.2,24.2 148.4,23.5 149.7,22.6 151.0,22.7 152.2,22.5 153.5,22.1 154.8,22.4 156.1,22.2 157.3,21.1 158.6,21.4 159.9,20.4 161.1,20.6 162.3,20.3 163.5,20.5 164.7,20.9 166.1,20.6 167.4,20.8 168.6,20.2 169.9,20.7 171.1,20.4 172.3,20.9 173.6,21.1 174.8,20.9 176.1,21.8 177.5,21.5 178.7,21.6 179.8,21.5 181.0,22.3 182.3,22.2 183.5,21.9 184.7,21.9 186.0,22.1 187.3,22.7 188.6,22.4 189.9,22.3 191.2,23.2 192.5,23.4 193.7,23.2 194.9,23.3 196.1,23.2 197.4,23.4 198.7,23.8 200.0,23.8 201.3,23.8 202.6,24.0 203.9,24.2 205.1,24.6 206.3,25.3 207.5,25.4 208.6,25.2 209.6,24.6 211.2,24.7 212.6,25.2 213.9,25.2 215.2,25.7 216.3,26.0 217.5,25.4 218.7,25.3 220.0,25.3 221.1,25.9 222.1,25.6 223.0,25.8 223.9,26.8 224.9,26.9 226.0,27.8 227.5,27.7 229.2,28.3 231.4,28.4 232.3,27.9 233.2,28.3 234.3,28.1 235.4,28.9 236.5,29.1 237.7,29.0 239.0,29.5 240.3,29.4 241.6,29.9 243.0,29.8 244.4,29.2 245.8,29.2 247.2,29.9 248.6,29.3 250.0,30.2 251.4,29.6 252.8,30.2 254.1,30.3 255.5,30.2 256.8,30.5 258.0,30.6 259.2,30.5 260.4,30.4 261.4,30.1 262.5,30.8 263.4,31.4 265.2,31.3 266.8,31.9 268.2,31.8 269.4,31.7 270.5,32.4 271.6,33.0 272.6,32.4 273.6,33.2 274.6,33.0 275.7,33.6 277.0,33.4 278.4,34.3 279.5,34.0 280.6,33.8 281.8,33.6 283.1,33.7 284.3,33.8 285.6,34.7 286.9,34.3 288.3,34.3 289.6,34.6 290.9,34.6 292.2,35.5 293.6,35.1 294.8,35.8 296.1,35.9 297.3,35.8 298.5,36.0 299.7,36.6 301.1,36.7 302.4,37.2 303.7,37.6 305.0,38.2 306.3,38.9 307.5,39.0 308.8,39.7 310.0,40.3 311.2,40.4 312.3,41.2 313.5,41.0 314.6,41.7 315.7,42.0 316.8,42.1 318.3,43.2 319.7,44.2 321.1,44.5 322.4,44.8 323.7,45.9 324.9,46.8 326.1,47.1 327.3,47.4 328.5,47.9 329.7,48.5 331.1,49.1 332.6,49.4 333.9,50.1 335.3,50.7 336.6,51.1 337.8,51.4 339.1,51.7 340.3,52.0 341.6,53.0 342.7,53.7 343.8,54.6 344.9,55.2 346.1,56.9 347.4,57.4 348.9,59.1 350.0,59.8 351.3,61.1 352.7,62.3 354.1,62.5 355.6,63.4 357.1,65.2 358.5,66.1 359.9,66.4 361.0,67.1 362.0,67.6 362.8,68.8" fill="none" stroke="#ff3c9a" stroke-width="2.1" stroke-linejoin="round" stroke-linecap="round"/>
<polyline points="77.5,23.9 78.2,24.1 79.0,24.3 79.9,24.4 81.0,24.2 82.2,24.9 83.4,25.4 84.7,25.4 86.1,25.5 87.5,25.3 89.0,25.1 90.5,25.5 92.0,26.0 93.1,25.6 94.2,26.4 95.4,26.1 96.6,26.0 97.8,25.8 99.0,26.8 100.3,27.1 101.6,27.3 102.9,27.2 104.2,26.5 105.6,26.5 106.9,26.7 108.2,26.4 109.5,27.3 110.8,27.0 112.1,26.6 113.4,27.3 114.6,26.8 115.9,27.5 117.1,27.3 118.3,27.3 119.5,27.1 120.7,27.2 121.9,26.8 123.1,26.5 124.3,27.4 125.5,27.0 126.8,27.5 128.0,27.0 129.3,27.7 130.6,27.9 132.0,27.8 133.4,27.7 134.8,27.5 135.9,27.5 137.0,26.8 138.2,26.8 139.4,27.2 140.7,26.6 141.9,27.2 143.2,27.3 144.5,26.8 145.8,26.4 147.1,26.3 148.4,26.1 149.8,26.7 151.1,26.2 152.4,25.5 153.6,25.2 154.9,25.8 156.1,26.4 157.3,26.0 158.5,25.8 159.6,25.8 160.6,26.0 161.6,25.4 162.6,25.7 164.3,25.7 165.8,25.8 167.1,25.4 168.3,25.3 169.4,25.5 170.4,26.4 171.5,26.2 172.5,26.5 173.6,26.4 174.8,26.1 176.1,26.0 177.5,26.9 178.6,27.3 179.7,27.0 180.9,27.3 182.1,27.5 183.3,27.8 184.6,28.1 185.9,27.6 187.2,28.1 188.5,28.3 189.8,28.0 191.1,28.2 192.4,27.9 193.7,27.6 195.1,27.4 196.4,28.0 197.6,27.5 198.9,27.2 200.2,27.9 201.5,28.2 202.8,28.0 204.1,28.4 205.4,27.6 206.8,27.5 208.1,27.5 209.4,27.6 210.7,27.4 212.0,27.2 213.3,27.4 214.5,28.2 215.7,28.6 216.9,28.5 218.0,28.2 219.0,27.8 220.0,28.5 221.6,28.3 223.0,28.5 224.2,27.8 225.2,27.8 226.2,28.6 227.2,29.0 228.4,29.3 229.8,29.1 231.4,28.9 232.4,29.0 233.5,29.3 234.6,28.9 235.7,28.9 236.9,28.7 238.2,29.2 239.5,28.5 240.8,29.0 242.1,29.5 243.4,28.7 244.8,29.0 246.1,29.2 247.5,29.6 248.8,29.5 250.1,29.0 251.4,29.1 252.7,29.8 253.9,30.1 255.2,29.3 256.4,29.0 257.6,28.9 258.9,28.8 260.1,29.4 261.3,29.3 262.5,30.2 263.7,30.5 265.0,30.0 266.2,30.3 267.5,30.3 268.8,30.5 270.1,30.4 271.4,30.3 272.7,30.3 274.1,30.6 275.2,31.1 276.4,31.2 277.6,30.6 278.8,31.2 280.1,31.7 281.4,31.7 282.6,31.8 283.9,30.9 285.2,31.1 286.5,30.7 287.8,31.3 289.1,30.9 290.4,31.4 291.6,31.1 292.9,31.5 294.1,31.2 295.3,30.8 296.5,31.0 297.6,31.1 298.7,31.8 299.7,31.5 301.2,31.7 302.6,31.9 304.0,32.5 305.3,31.9 306.6,32.3 307.8,32.4 309.0,32.9 310.2,33.4 311.4,33.0 312.5,33.3 313.6,33.4 314.7,33.5 315.7,33.0 316.8,33.7 318.3,34.2 319.7,33.7 321.1,33.4 322.5,34.0 323.8,33.2 325.1,32.8 326.3,32.6 327.5,33.4 328.6,33.7 329.7,33.6 331.1,33.9 332.3,33.6 333.4,34.4 334.5,34.7 335.6,35.2 336.8,35.4 338.2,35.5 339.3,35.3 340.5,35.0 341.8,35.2 343.1,35.0 344.4,35.4 345.7,35.7 347.1,35.7 348.4,35.3 349.7,34.9 351.0,35.1 352.4,35.4 353.9,36.0 355.4,36.9 357.0,36.6 358.4,37.2 359.8,37.8 361.0,38.5 362.0,39.2 362.8,38.9" fill="none" stroke="#3232ff" stroke-width="2.1" stroke-linejoin="round" stroke-linecap="round"/>
<polyline points="77.5,111.6 78.3,111.6 79.5,111.4 80.9,112.7 82.3,112.5 83.7,112.4 85.0,113.0 86.1,112.8 86.9,113.0 87.8,112.1 89.2,112.3 91.4,111.6 92.3,111.7 93.3,112.1 94.5,112.0 95.7,112.3 97.1,112.2 98.5,111.4 99.9,112.0 101.4,112.0 102.9,111.7 104.3,111.4 105.8,112.1 107.1,112.0 108.5,112.4 109.7,112.4 110.8,112.6 111.8,112.1 112.7,112.0 115.1,111.2 116.1,109.6 116.8,109.1 118.1,107.8 119.1,107.9 120.2,108.2 121.3,108.0 122.6,107.3 123.8,107.9 125.1,107.9 126.4,107.3 127.7,106.8 129.0,106.9 130.2,106.2 131.5,106.8 132.9,106.3 134.2,105.9 135.6,105.4 137.0,105.2 138.4,105.2 139.6,104.3 140.9,103.7 142.2,103.5 143.5,102.8 144.8,102.7 146.1,102.3 147.4,101.8 148.7,101.6 150.0,101.2 151.2,100.3 152.6,100.7 153.9,99.9 155.2,99.4 156.4,99.0 157.7,99.2 159.0,99.2 160.4,98.5 161.9,97.9 163.0,97.3 164.1,97.8 165.2,97.2 166.3,97.2 167.5,97.0 168.7,96.8 169.9,96.7 171.2,96.4 172.5,96.0 173.9,96.5 175.3,96.9 176.8,97.0 177.9,96.5 179.0,96.8 180.2,96.3 181.5,96.5 182.7,97.1 184.0,97.5 185.4,97.2 186.7,97.6 188.0,97.4 189.4,97.4 190.7,97.5 192.0,98.0 193.3,98.0 194.6,97.7 195.8,97.9 197.0,97.8 198.2,97.5 199.5,97.8 200.8,97.9 202.0,97.7 203.2,97.9 204.3,96.9 205.4,96.9 206.5,97.0 207.7,96.6 208.8,96.2 210.0,96.5 211.2,96.3 212.5,96.0 213.9,95.6 215.3,96.5 216.4,96.1 217.4,95.7 218.5,95.6 219.7,95.6 220.8,96.3 222.0,95.8 223.2,95.7 224.4,95.5 225.6,95.8 226.8,95.6 228.1,95.7 229.4,96.3 230.7,96.7 232.0,96.9 233.3,96.0 234.6,96.0 235.9,96.6 237.3,95.9 238.6,95.8 240.0,96.1 241.1,96.2 242.3,96.6 243.4,96.8 244.6,96.6 245.8,96.3 247.1,96.2 248.3,96.2 249.6,96.0 250.9,96.6 252.1,96.3 253.4,97.1 254.7,97.2 256.0,96.5 257.3,96.8 258.5,97.1 259.8,96.6 261.0,96.9 262.3,96.5 263.5,97.3 264.6,96.7 265.8,97.3 266.9,98.0 268.0,98.1 269.1,97.5 270.1,97.6 271.6,97.3 273.1,97.4 274.6,98.2 276.0,98.6 277.3,97.8 278.6,98.0 279.9,98.5 281.1,98.2 282.3,99.0 283.5,99.4 284.6,99.3 285.8,99.1 286.9,99.6 288.0,99.5 289.0,99.1 290.1,99.0 291.6,98.8 293.0,99.5 294.3,99.3 295.5,99.4 296.8,99.4 297.9,99.6 299.1,98.6 300.3,98.4 301.5,98.9 302.8,99.0 304.1,98.7 305.3,99.0 306.5,98.8 307.7,98.8 309.0,98.9 310.3,99.6 311.6,100.0 312.9,100.7 314.1,101.9 315.4,101.6 316.6,102.2 317.8,102.9 319.0,103.1 320.1,103.2 321.5,103.6 322.8,102.8 324.0,103.6 325.2,103.6 326.4,103.6 327.6,103.6 328.7,102.7 329.8,102.3 331.0,102.2 332.2,102.7 333.4,103.6 334.5,104.1 335.6,103.9 336.7,104.2 337.8,104.7 339.0,104.6 340.2,105.5 341.4,106.1 342.8,106.3 344.2,106.8 345.3,106.9 346.4,107.0 347.7,106.7 349.0,106.8 350.4,106.9 351.8,106.8 353.2,108.0 354.6,108.0 356.0,107.7 357.3,108.1 358.5,108.2 359.7,108.7 360.7,108.9 361.5,108.9 362.2,109.6" fill="none" stroke="#3a3a3a" stroke-width="2.1" stroke-linejoin="round" stroke-linecap="round"/>
<polyline points="77.5,120.6 78.2,121.4 79.0,121.4 79.9,120.4 80.9,120.6 82.0,120.5 83.1,120.5 84.4,120.1 85.7,119.9 87.0,120.2 88.4,120.0 89.8,120.2 91.2,119.8 92.7,119.6 94.1,120.3 95.5,120.2 96.9,120.3 98.3,120.6 99.6,120.2 100.8,119.7 102.0,120.3 103.3,120.3 104.6,120.3 105.8,120.3 107.0,120.6 108.2,120.0 109.4,120.1 110.5,119.7 111.6,119.7 112.8,119.7 114.0,119.3 115.2,118.7 116.4,118.9 117.7,119.3 119.0,119.2 120.4,119.0 121.9,119.1 123.4,118.6 124.4,118.4 125.5,118.4 126.6,119.0 127.8,118.5 128.9,118.2 130.1,118.1 131.3,117.9 132.5,118.1 133.7,118.6 135.0,119.1 136.2,118.8 137.5,118.6 138.8,118.5 140.1,118.5 141.4,119.0 142.7,119.0 144.0,118.6 145.3,118.3 146.6,119.0 147.9,119.2 149.2,119.4 150.5,118.8 151.7,118.9 153.0,119.4 154.3,119.2 155.5,119.6 156.7,118.8 158.0,119.4 159.2,118.6 160.4,118.6 161.7,118.2 162.9,118.9 164.1,119.1 165.3,119.5 166.6,119.4 167.8,119.6 169.0,119.2 170.2,119.5 171.5,119.3 172.7,118.8 173.9,119.3 175.2,118.8 176.4,118.3 177.6,117.9 178.9,118.2 180.1,118.0 181.3,118.8 182.6,119.2 183.8,118.5 185.0,118.0 186.3,118.3 187.5,118.0 188.7,118.3 189.9,118.8 191.0,118.3 192.2,118.3 193.4,118.9 194.5,118.6 195.7,118.3 196.9,118.9 198.0,119.0 199.2,119.2 200.3,119.0 201.5,118.6 202.7,118.8 203.8,119.0 205.0,118.9 206.2,118.4 207.4,118.2 208.6,118.3 209.8,118.8 211.0,118.7 212.3,118.7 213.5,119.0 214.8,118.3 216.1,118.7 217.4,118.5 218.7,118.7 220.0,119.1 221.1,118.6 222.2,119.2 223.4,118.5 224.5,118.7 225.7,118.9 226.8,118.6 228.0,118.8 229.2,118.9 230.4,118.9 231.6,119.2 232.8,118.5 234.0,118.7 235.2,119.3 236.4,118.8 237.7,119.5 238.9,119.0 240.1,119.4 241.4,119.0 242.6,119.1 243.9,119.2 245.1,118.9 246.4,119.5 247.6,119.5 248.9,119.8 250.1,119.8 251.4,119.8 252.6,119.8 253.9,119.6 255.1,120.2 256.3,119.5 257.6,120.2 258.8,120.5 260.0,120.3 261.2,120.5 262.5,120.5 263.7,120.5 265.0,120.1 266.3,120.0 267.6,120.0 268.9,120.0 270.2,120.8 271.5,120.4 272.8,120.4 274.1,120.4 275.4,120.9 276.7,120.8 278.0,120.9 279.4,120.6 280.7,120.5 281.9,120.2 283.2,120.3 284.5,120.5 285.8,121.2 287.0,121.2 288.2,120.8 289.4,121.0 290.6,120.7 291.8,121.2 292.9,121.2 294.0,121.8 295.1,121.4 296.2,121.9 297.2,121.4 298.2,122.1 299.2,122.1 300.1,121.3 301.9,122.0 303.4,121.7 304.8,121.7 306.0,121.4 307.1,122.2 308.1,121.7 309.1,122.3 310.0,122.1 310.9,122.4 311.9,122.1 312.9,121.8 314.0,122.6 315.3,122.7 316.7,122.2 318.3,122.9 320.1,123.2 321.0,122.4 322.0,121.9 323.1,122.4 324.2,122.0 325.3,122.6 326.5,122.5 327.8,122.8 329.1,122.7 330.4,123.0 331.7,123.1 333.1,122.9 334.5,122.8 335.9,122.5 337.4,122.1 338.8,121.9 340.2,122.7 341.7,122.2 343.1,122.3 344.5,122.2 345.9,122.5 347.3,122.6 348.7,123.0 350.0,122.7 351.3,122.4 352.6,122.7 353.8,122.9 355.0,123.2 356.1,122.6 357.2,123.0 358.2,123.3 359.1,123.4 360.0,122.5 360.8,122.3 361.6,122.8 362.2,122.5" fill="none" stroke="#3ce63c" stroke-width="2.1" stroke-linejoin="round" stroke-linecap="round"/>
<g transform="translate(170.50,176.00)"><text x="0.00" y="0" style="font-size:13.6px;fill:#151515;stroke:#151515;stroke-width:0.35px">Wavenumber (cm</text></g>
<g transform="translate(277.35,169.60)"><text x="0.00" y="0" style="font-size:8px;fill:#151515;stroke:#151515;stroke-width:0.25px">- </text><path d="M763 0L583 0L583 1098Q518 1039 412.5 979Q307 920 223 890L223 1057Q374 1125 485.5 1220Q597 1315 647 1409L763 1409Z" transform="translate(2.66,0) scale(0.00391,-0.00391)" fill="#151515" stroke="#151515" stroke-width="64.0"/></g>
<g transform="translate(285.10,176.00)"><text x="0.00" y="0" style="font-size:13.6px;fill:#151515;stroke:#151515;stroke-width:0.35px">)</text></g>
<g transform="translate(66.00,95.00) rotate(-90)"><text x="0.00" y="0" style="font-size:13.6px;fill:#151515;stroke:#151515;stroke-width:0.35px">Absorbance</text></g>
</svg>
</body></html>
